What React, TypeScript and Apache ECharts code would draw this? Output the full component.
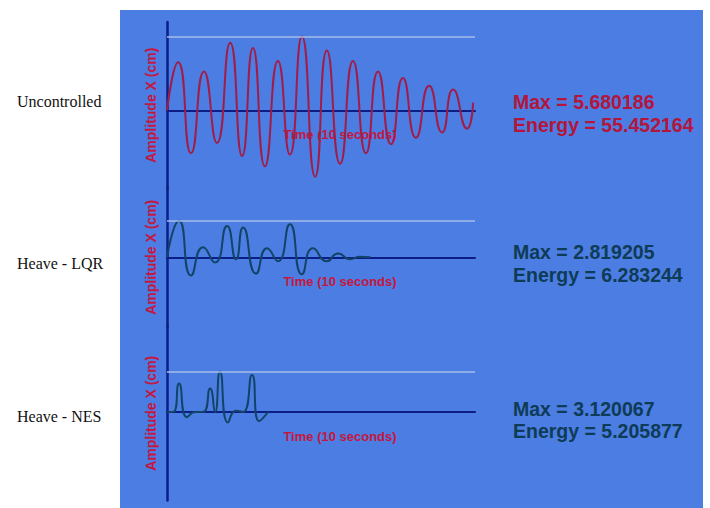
import React, { useEffect, useRef } from "react";
import * as echarts from "echarts";

// Row titles and summary figures for each response
const rowLabels = ["Uncontrolled", "Heave - LQR", "Heave - NES"];
const maxValues = [5.680186, 2.819205, 3.120067];
const energyValues = [55.452164, 6.283244, 5.205877];

// Heave displacement (cm) against time (s), sampled at the turning points
const uncontrolledTime = [0, 0.36, 0.78, 1.2, 1.62, 2.05, 2.44, 2.79, 3.18, 3.6, 3.99, 4.38, 4.81, 5.19, 5.62, 6.04, 6.46, 6.85, 7.27, 7.66, 8.08, 8.51, 8.93, 9.29, 9.74, 9.94];
const uncontrolledAmp = [0, 3.7, -3.3, 3.0, -2.5, 5.2, -3.5, 4.8, -4.3, 3.8, -3.4, 5.680186, -5.1, 4.6, -4.1, 3.8, -3.3, 3.0, -2.6, 2.5, -2.1, 1.9, -1.7, 1.6, -1.4, 0.6];

const lqrTime = [0, 0.39, 0.78, 1.17, 1.56, 1.95, 2.24, 2.47, 2.89, 3.25, 3.6, 3.99, 4.38, 4.74, 5.19, 5.55, 5.94, 6.27, 6.6];
const lqrAmp = [0, 2.819205, -1.4, 0.77, -0.4, 2.4, -0.15, 2.3, -1.25, 0.7, -0.3, 2.55, -1.3, 0.7, -0.3, 0.3, -0.15, 0.05, 0];

const nesTime = [0, 0.2, 0.39, 0.65, 0.91, 1.17, 1.4, 1.56, 1.72, 1.98, 2.24, 2.47, 2.76, 2.99, 3.28];
const nesAmp = [0, 0, 2.2, -0.4, 0, 0, 1.8, 0, 3.120067, -0.8, 0.1, 0, 2.85, -0.7, 0];

// Axis extents
const timeRange = [0, 10];
const ampRanges = [
  [-6, 6.8],
  [-5.3, 5.3],
  [-6.8, 6.6],
];

const PX_PER_CM = 13;
const PLOT_TOP = 22;
const PLOT_LEFT = 167;
const PLOT_RIGHT = 235;

const PANEL_BG = "#4c7de2";
const AXIS_COLOR = "#0c1d86";
const LABEL_RED = "#c4173f";
const RED_TEXT = "#b3153b";
const TEAL_TEXT = "#0e3b56";
const RED_WAVE = "#a11d48";
const TEAL_WAVE = "#124468";

const panels = [
  { time: uncontrolledTime, amp: uncontrolledAmp, wave: RED_WAVE, text: RED_TEXT },
  { time: lqrTime, amp: lqrAmp, wave: TEAL_WAVE, text: TEAL_TEXT },
  { time: nesTime, amp: nesAmp, wave: TEAL_WAVE, text: TEAL_TEXT },
];

const rowLabelY = [101, 263, 416];
const maxTextY = [101.5, 251.5, 408.5];
const energyTextY = [125, 275, 431];

export default function App() {
  const ref = useRef<HTMLDivElement>(null);

  useEffect(() => {
    if (!ref.current) return;
    const chart = echarts.init(ref.current, undefined, { renderer: "svg" });

    let top = PLOT_TOP;
    const baselines: number[] = [];
    const grids = ampRanges.map(([lo, hi]) => {
      const height = (hi - lo) * PX_PER_CM;
      const g = { left: PLOT_LEFT, right: PLOT_RIGHT, top, height, containLabel: false };
      baselines.push(top + hi * PX_PER_CM);
      top += height;
      return g;
    });

    const xAxis = panels.map((_, i) => ({
      type: "value",
      gridIndex: i,
      min: timeRange[0],
      max: timeRange[1],
      axisLine: { show: true, onZero: true, lineStyle: { color: AXIS_COLOR, width: 2 } },
      axisTick: { show: false },
      axisLabel: { show: false },
      splitLine: { show: false },
    }));

    const yAxis = panels.map((_, i) => ({
      type: "value",
      gridIndex: i,
      min: ampRanges[i][0],
      max: ampRanges[i][1],
      axisLine: { show: true, onZero: false, lineStyle: { color: AXIS_COLOR, width: 2.5 } },
      axisTick: { show: false },
      axisLabel: { show: false },
      splitLine: { show: false },
      name: "Amplitude X (cm)",
      nameLocation: "middle",
      nameGap: 9,
      nameTextStyle: {
        color: LABEL_RED,
        fontFamily: "Liberation Sans",
        fontWeight: "bold",
        fontSize: 14,
      },
    }));

    const series = panels.map((p, i) => ({
      type: "line",
      xAxisIndex: i,
      yAxisIndex: i,
      data: p.time.map((t, k) => [t, p.amp[k]]),
      smooth: 0.6,
      showSymbol: false,
      lineStyle: { color: p.wave, width: 2 },
      markLine: {
        silent: true,
        symbol: "none",
        label: { show: false },
        lineStyle: { color: "#a6bde9", width: 1.5, type: "solid" },
        data: [{ yAxis: maxValues[i] }],
      },
    }));

    const graphic: any[] = [
      {
        type: "rect",
        z: -10,
        shape: { x: 120, y: 10, width: 583, height: 498 },
        style: { fill: PANEL_BG },
      },
    ];
    rowLabels.forEach((label, i) => {
      // time-axis caption sits just under each zero line
      graphic.push({
        type: "text",
        x: 340,
        y: baselines[i] + 24,
        style: {
          text: "Time (10 seconds)",
          fill: LABEL_RED,
          fontFamily: "Liberation Sans",
          fontWeight: "bold",
          fontSize: 13,
          align: "center",
          verticalAlign: "middle",
        },
      });
      graphic.push({
        type: "text",
        x: 17,
        y: rowLabelY[i],
        style: {
          text: label,
          fill: "#111111",
          fontFamily: "Liberation Serif",
          fontSize: 16,
          align: "left",
          verticalAlign: "middle",
        },
      });
      graphic.push({
        type: "text",
        x: 513,
        y: maxTextY[i],
        style: {
          text: `Max = ${maxValues[i].toFixed(6)}`,
          fill: panels[i].text,
          fontFamily: "Liberation Sans",
          fontWeight: "bold",
          fontSize: 19.5,
          align: "left",
          verticalAlign: "middle",
        },
      });
      graphic.push({
        type: "text",
        x: 513,
        y: energyTextY[i],
        style: {
          text: `Energy = ${energyValues[i].toFixed(6)}`,
          fill: panels[i].text,
          fontFamily: "Liberation Sans",
          fontWeight: "bold",
          fontSize: 19.5,
          align: "left",
          verticalAlign: "middle",
        },
      });
    });

    chart.setOption({
      animation: false,
      backgroundColor: "#ffffff",
      grid: grids,
      xAxis,
      yAxis,
      series,
      graphic,
    });

    return () => chart.dispose();
  }, []);

  return (
    <div
      ref={ref}
      style={{ position: "fixed", left: 0, top: 0, width: 710, height: 508 }}
    />
  );
}
